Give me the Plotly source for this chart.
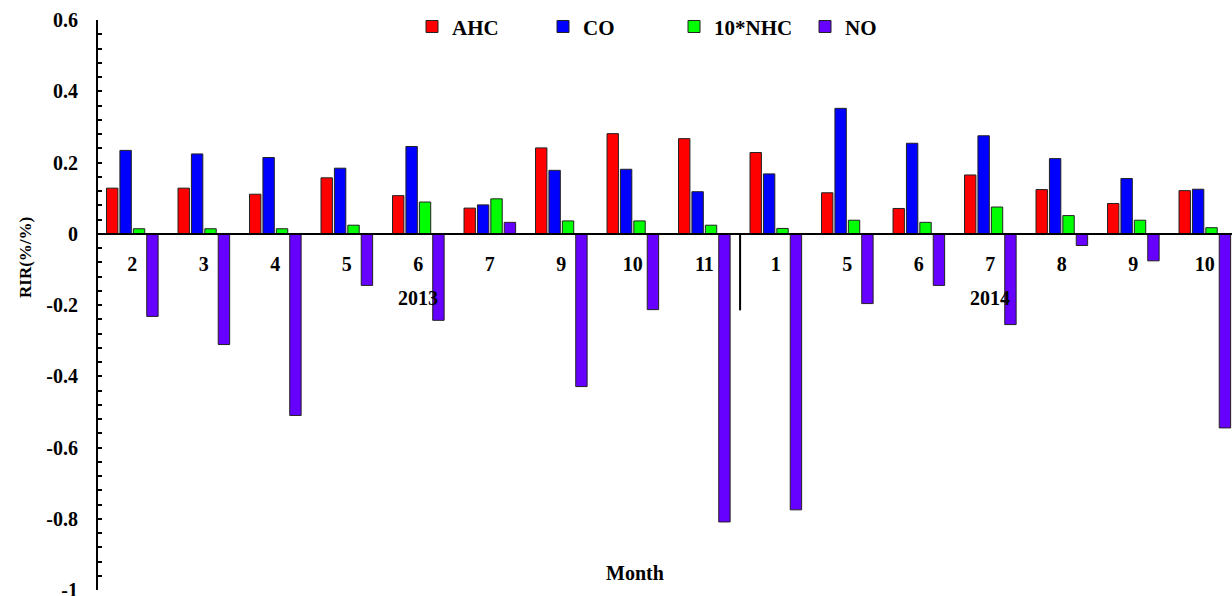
import plotly.graph_objects as go
import numpy as np

# ---------------- data ----------------
months = ["2", "3", "4", "5", "6", "7", "9", "10", "11", "1", "5", "6", "7", "8", "9", "10"]
years = ["2013"] * 9 + ["2014"] * 7

ahc = [0.128, 0.128, 0.111, 0.157, 0.107, 0.072, 0.241, 0.281, 0.267,
       0.228, 0.115, 0.071, 0.165, 0.124, 0.085, 0.121]
co = [0.234, 0.224, 0.214, 0.184, 0.245, 0.081, 0.178, 0.181, 0.118,
      0.168, 0.352, 0.254, 0.275, 0.211, 0.155, 0.125]
nhc10 = [0.014, 0.014, 0.014, 0.024, 0.089, 0.098, 0.036, 0.036, 0.024,
         0.015, 0.038, 0.032, 0.075, 0.051, 0.038, 0.017]
no = [-0.232, -0.311, -0.510, -0.145, -0.243, 0.032, -0.429, -0.213, -0.809,
      -0.775, -0.196, -0.145, -0.255, -0.033, -0.076, -0.545]

series_names = ["AHC", "CO", "10*NHC", "NO"]
series_values = [ahc, co, nhc10, no]
series_colors = ["#FF0000", "#0000FF", "#00FF00", "#6600FF"]

y_tickvals = [-1, -0.8, -0.6, -0.4, -0.2, 0, 0.2, 0.4, 0.6]
y_ticktext = ["-1", "-0.8", "-0.6", "-0.4", "-0.2", "0", "0.2", "0.4", "0.6"]

# ---------------- figure ----------------
FONT = "Liberation Serif, Times New Roman, serif"
x = list(range(len(months)))

fig = go.Figure()
for name, vals, col in zip(series_names, series_values, series_colors):
    fig.add_trace(go.Bar(
        x=x, y=vals, name=name,
        marker=dict(color=col, line=dict(color="#222222", width=1)),
    ))

Y_MIN, Y_MAX = -1, 0.6
fig.update_layout(
    width=1232, height=596,
    margin=dict(l=98, r=0, t=20, b=6, autoexpand=False),
    paper_bgcolor="white", plot_bgcolor="white",
    barmode="group", bargap=0.25, bargroupgap=0.15,
    font=dict(family=FONT, size=20, color="black", weight="bold"),
    showlegend=True,
    legend=dict(
        orientation="h", x=(412 - 98) / 1134, xanchor="left",
        y=0.988, yanchor="middle",
        bgcolor="rgba(0,0,0,0)", entrywidth=86,
        font=dict(family=FONT, size=21, color="black", weight="bold"),
    ),
    xaxis=dict(
        range=[-0.48, 15.38], automargin=False,
        tickmode="array", tickvals=x, ticktext=months,
        anchor="free", position=(0 - Y_MIN) / (Y_MAX - Y_MIN),
        showline=True, linecolor="black", linewidth=2,
        ticks="", showgrid=False, zeroline=False,
        ticklabelstandoff=12,
        tickfont=dict(family=FONT, size=20, color="black", weight="bold"),
    ),
    yaxis=dict(
        range=[Y_MIN, Y_MAX], automargin=False,
        tickmode="array", tickvals=y_tickvals, ticktext=y_ticktext,
        showline=True, linecolor="black", linewidth=2,
        ticks="inside", ticklen=4, tickwidth=2, tickcolor="black",
        minor=dict(tickmode="linear", tick0=0, dtick=0.04, ticks="inside",
                   ticklen=4, tickwidth=2, tickcolor="black"),
        showgrid=False, zeroline=False,
        ticklabelstandoff=14, ticklabeloverflow="allow",
        tickfont=dict(family=FONT, size=20, color="black", weight="bold"),
    ),
)

# year separator (between last 2013 and first 2014 month)
first_2014 = years.index("2014")
fig.add_shape(type="line", xref="x", yref="y",
              x0=first_2014 - 0.5, x1=first_2014 - 0.5, y0=0, y1=-0.215,
              line=dict(color="black", width=2))

# year labels centred under their months
for yr in ["2013", "2014"]:
    idx = [i for i, v in enumerate(years) if v == yr]
    fig.add_annotation(x=float(np.mean(idx)), y=-0.18, xref="x", yref="y",
                       xanchor="center", yanchor="middle",
                       text=yr, showarrow=False,
                       font=dict(family=FONT, size=20, color="black", weight="bold"))

# axis titles
fig.add_annotation(x=(635 - 98) / 1134, y=(590 - 573) / 570, xref="paper", yref="paper",
                   xanchor="center", yanchor="middle",
                   text="Month", showarrow=False,
                   font=dict(family=FONT, size=20, color="black", weight="bold"))
fig.add_annotation(x=(25 - 98) / 1134, y=(590 - 258) / 570, xref="paper", yref="paper",
                   xanchor="center", yanchor="middle",
                   text="RIR(%/%)", showarrow=False, textangle=-90,
                   font=dict(family=FONT, size=17, color="black", weight="bold"))

fig.write_html("out.html")
